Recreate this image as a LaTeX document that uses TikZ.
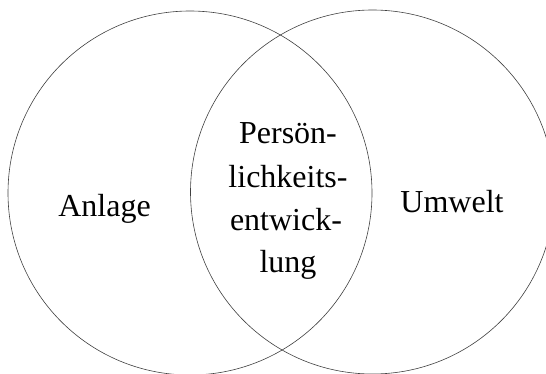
\documentclass[tikz,border=0pt]{standalone}
\usepackage{fontspec}
\setmainfont{Liberation Serif}
\begin{document}
\begin{tikzpicture}[x=1pt,y=1pt,
  ring/.style={draw=black!75,line width=0.6pt},
  lbl/.style={font=\fontsize{32}{43}\selectfont,inner sep=0pt,anchor=base}]
\useasboundingbox (0,0) rectangle (546,373);
\draw[ring] (190,180) circle (182);
\draw[ring] (372.5,181) circle (182);
\node[lbl] (anlage) at (104.5,157) {Anlage};
\node[lbl] (umwelt) at (452,160.5) {Umwelt};
\node[lbl] (p1) at (288,230) {Persön-};
\node[lbl] (p2) at (288,186) {lichkeits-};
\node[lbl] (p3) at (286,143) {entwick-};
\node[lbl] (p4) at (288,101) {lung};
\end{tikzpicture}
\end{document}
